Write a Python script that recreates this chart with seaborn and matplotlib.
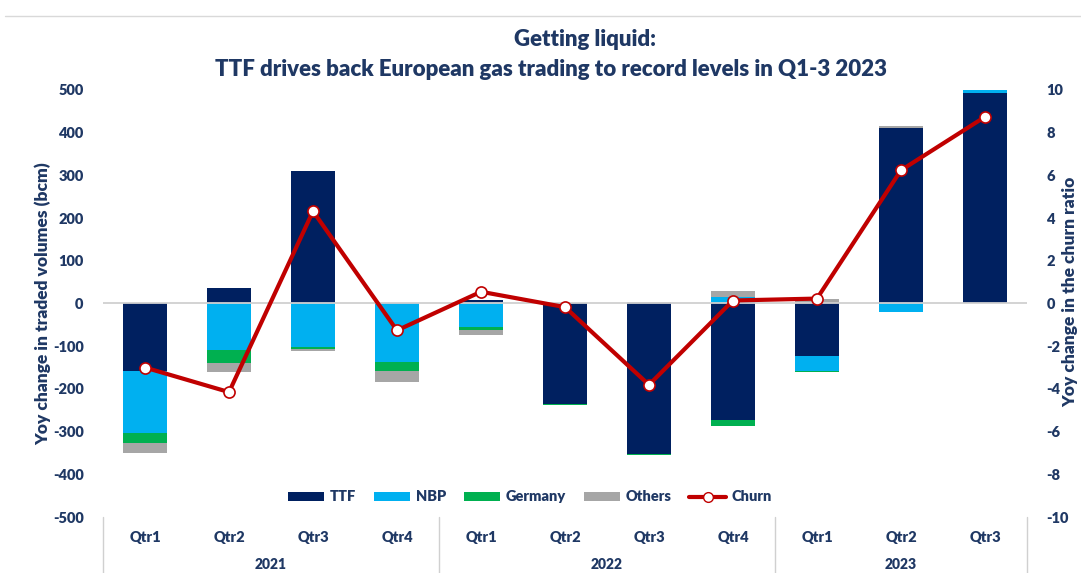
import numpy as np
import pandas as pd
import matplotlib
matplotlib.use("Agg")
import matplotlib.pyplot as plt
from matplotlib.lines import Line2D
from matplotlib.patches import Patch
import seaborn as sns

# ---- data -------------------------------------------------------------
years = ["2021", "2022", "2023"]
quarters = ["Qtr1", "Qtr2", "Qtr3", "Qtr4",
            "Qtr1", "Qtr2", "Qtr3", "Qtr4",
            "Qtr1", "Qtr2", "Qtr3"]
quarter_year = ["2021", "2021", "2021", "2021",
                "2022", "2022", "2022", "2022",
                "2023", "2023", "2023"]

# year-on-year change in traded volumes, bcm
ttf = [-158, 37, 311, 0, 8, -235, -352, -273, -123, 412, 493]
nbp = [-146, -110, -102, -137, -55, 0, 0, 15, -35, -21, 7]
germany = [-22, -29, -4, -22, -6, -2, -3, -13, -3, 0, 0]
others = [-24, -22, -6, -24, -12, 2, 3, 14, 10, 3, 0]

# year-on-year change in the churn ratio
churn = [-3.0, -4.15, 4.32, -1.26, 0.55, -0.17, -3.81, 0.14, 0.23, 6.24, 8.74]

series_names = ["TTF", "NBP", "Germany", "Others"]
series_values = [ttf, nbp, germany, others]
series_colors = ["#002060", "#00B0F0", "#00B050", "#A6A6A6"]
churn_color = "#C00000"
text_color = "#1F3864"
W = "heavy"

# ---- styling ----------------------------------------------------------
sns.set_theme(style="white")
plt.rcParams["font.family"] = ["Lato", "DejaVu Sans"]
plt.rcParams["font.weight"] = W

fig = plt.figure(figsize=(10.81, 5.73), dpi=100)
ax = fig.add_axes([0.0953, 0.0977, 0.8547, 0.7453])

keys = [f"{y} {q}" for y, q in zip(quarter_year, quarters)]

# stack positives upward and negatives downward from zero
pos_cum = np.zeros(len(keys))
neg_cum = np.zeros(len(keys))
for name, vals, col in zip(series_names, series_values, series_colors):
    v = np.array(vals, dtype=float)
    bottom = np.where(v >= 0, pos_cum, neg_cum)
    df = pd.DataFrame({"period": keys, "value": v})
    sns.barplot(data=df, x="period", y="value", order=keys, color=col,
                width=0.525, errorbar=None, bottom=bottom, saturation=1,
                linewidth=0, ax=ax, zorder=2)
    pos_cum = pos_cum + np.where(v >= 0, v, 0)
    neg_cum = neg_cum + np.where(v < 0, v, 0)

ax.axhline(0, color="#D0D0D0", lw=1.3, zorder=3)
ax.set_xlim(-0.5, len(keys) - 0.5)
ax.set_ylim(-500, 500)
ax.set_yticks(np.arange(-500, 501, 100))
ax.set_yticklabels([str(t) for t in range(-500, 501, 100)], fontweight=W)
ax.tick_params(axis="y", length=0, pad=14, labelsize=10.5, labelcolor=text_color)
ax.set_xticks([])
ax.set_xlabel("")
ax.set_ylabel("")
for s in ax.spines.values():
    s.set_visible(False)
fig.text(43 / 1081, 1 - 304 / 573, "Yoy change in traded volumes (bcm)",
         rotation=90, ha="center", va="center", fontsize=12.5,
         fontweight=W, color=text_color)

# churn ratio on the secondary axis
ax2 = ax.twinx()
cdf = pd.DataFrame({"pos": np.arange(len(keys)), "churn": churn})
sns.lineplot(data=cdf, x="pos", y="churn", ax=ax2, color=churn_color, lw=3,
             marker="o", markersize=8, markerfacecolor="white",
             markeredgecolor=churn_color, markeredgewidth=1.2, zorder=5)
ax2.set_xlim(-0.5, len(keys) - 0.5)
ax2.set_ylim(-10, 10)
ax2.set_yticks(np.arange(-10, 11, 2))
ax2.set_yticklabels([str(t) for t in range(-10, 11, 2)], fontweight=W)
ax2.tick_params(axis="y", length=0, pad=14, labelsize=10.5, labelcolor=text_color)
ax2.set_xlabel("")
ax2.set_ylabel("")
for s in ax2.spines.values():
    s.set_visible(False)
fig.text(1062 / 1081, 1 - 292 / 573, "Yoy change in the churn ratio",
         rotation=90, ha="left", va="center", fontsize=12.5,
         fontweight=W, color=text_color)

# two-level category axis
for i, q in enumerate(quarters):
    ax.annotate(q, xy=(i, 0), xycoords=("data", "axes fraction"),
                xytext=(0, -15), textcoords="offset points",
                ha="center", va="center", fontsize=10.5, fontweight=W,
                color=text_color, annotation_clip=False)
for y in years:
    idx = [i for i, qy in enumerate(quarter_year) if qy == y]
    ax.annotate(y, xy=(np.mean(idx), 0), xycoords=("data", "axes fraction"),
                xytext=(0, -34), textcoords="offset points",
                ha="center", va="center", fontsize=10, fontweight=W,
                color=text_color, annotation_clip=False)
for b in [-0.5, 3.5, 7.5, 10.5]:
    ax.add_line(Line2D([b, b], [0, -0.14], transform=ax.get_xaxis_transform(),
                       color="#D0D0D0", lw=1, clip_on=False))

# legend
handles = [Patch(facecolor=c, edgecolor="none", label=n)
           for n, c in zip(series_names, series_colors)]
handles.append(Line2D([], [], color=churn_color, lw=3, marker="o",
                      markersize=7, markerfacecolor="white",
                      markeredgecolor=churn_color, label="Churn"))
leg = ax.legend(handles=handles, loc="center", bbox_to_anchor=(0.462, 0.047),
                ncol=5, frameon=False, fontsize=10.5, handlelength=2.5,
                handleheight=0.55, columnspacing=1.2, handletextpad=0.4)
for t in leg.get_texts():
    t.set_color(text_color)
    t.set_fontweight(W)

# title and top rule
fig.text(585 / 1081, 1 - 40 / 573, "Getting liquid:", ha="center", va="center",
         fontsize=16, fontweight=W, color=text_color)
fig.text(551 / 1081, 1 - 70 / 573,
         "TTF drives back European gas trading to record levels in Q1-3 2023",
         ha="center", va="center", fontsize=16, fontweight=W,
         color=text_color)
fig.add_artist(Line2D([5 / 1081, 1], [1 - 16 / 573, 1 - 16 / 573],
                      transform=fig.transFigure, color="#D9D9D9", lw=1))

fig.savefig("out.png", dpi=100)
